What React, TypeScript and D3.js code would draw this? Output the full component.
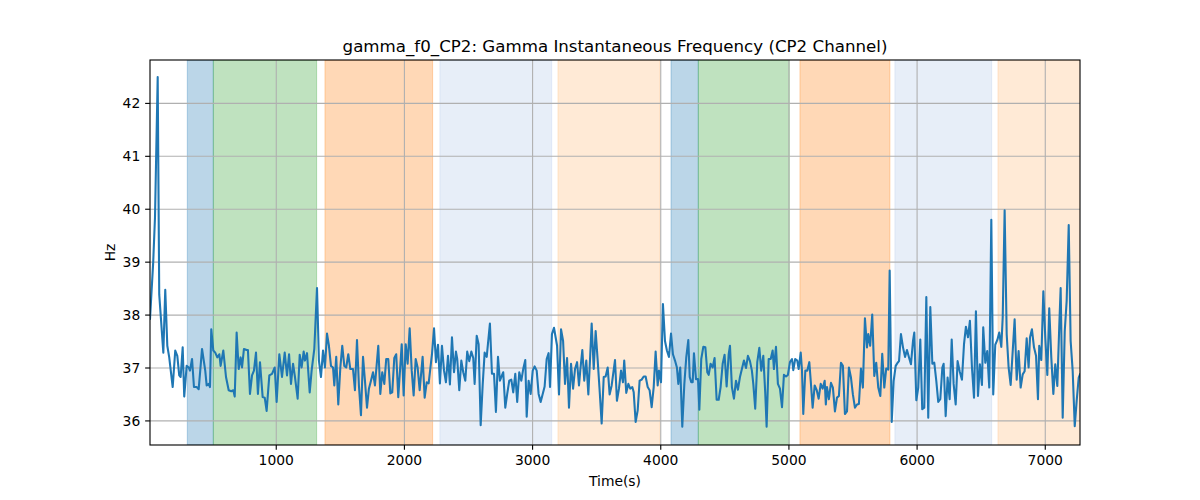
import React from "react";
import * as d3 from "d3";

const TITLE = "gamma_f0_CP2: Gamma Instantaneous Frequency (CP2 Channel)";
const X_LABEL = "Time(s)";
const Y_LABEL = "Hz";

const xTicks = [1000, 2000, 3000, 4000, 5000, 6000, 7000];
const yTicks = [36, 37, 38, 39, 40, 41, 42];

// shaded stage spans [start, end, colour]
const spanStarts = [306, 509, 1380, 2277, 3198, 4080, 4293, 5086, 5827, 6631];
const spanEnds = [509, 1315, 2220, 3149, 3994, 4293, 5003, 5788, 6582, 7300];
const spanColors = ["#1f77b4", "#2ca02c", "#ff7f0e", "#aec7e8", "#ffbb78", "#1f77b4", "#2ca02c", "#ff7f0e", "#aec7e8", "#ffbb78"];

const times = [
  15, 40, 54, 75, 87, 119, 134, 150, 165, 192, 212, 228, 243, 254, 270, 282, 301, 317, 327, 343,
  358, 379, 395, 421, 446, 457, 473, 483, 493, 509, 524, 540, 556, 566, 587, 608, 629, 649, 665, 676,
  691, 707, 722, 733, 748, 769, 779, 795, 811, 826, 842, 857, 873, 894, 910, 925, 946, 967, 988, 1003,
  1024, 1045, 1066, 1084, 1100, 1115, 1131, 1146, 1167, 1183, 1198, 1214, 1224, 1240, 1261, 1276, 1297, 1318, 1333, 1349,
  1365, 1380, 1396, 1411, 1427, 1443, 1453, 1468, 1484, 1500, 1515, 1531, 1546, 1562, 1578, 1599, 1614, 1630, 1645, 1661,
  1677, 1692, 1708, 1723, 1739, 1755, 1770, 1796, 1812, 1827, 1843, 1858, 1874, 1890, 1905, 1921, 1936, 1952, 1979, 1994,
  2010, 2025, 2041, 2057, 2072, 2088, 2103, 2119, 2142, 2158, 2174, 2189, 2215, 2231, 2246, 2262, 2277, 2293, 2309, 2324,
  2340, 2355, 2371, 2387, 2402, 2412, 2428, 2444, 2459, 2475, 2490, 2506, 2522, 2537, 2548, 2564, 2579, 2595, 2611, 2626,
  2642, 2667, 2683, 2699, 2714, 2730, 2745, 2761, 2771, 2787, 2802, 2818, 2834, 2849, 2865, 2880, 2896, 2912, 2927, 2943,
  2954, 2969, 2985, 3001, 3016, 3032, 3047, 3063, 3079, 3094, 3110, 3125, 3136, 3151, 3167, 3191, 3206, 3222, 3238, 3253,
  3269, 3284, 3300, 3316, 3331, 3347, 3362, 3372, 3388, 3403, 3419, 3435, 3450, 3461, 3477, 3492, 3508, 3523, 3539, 3555,
  3570, 3586, 3601, 3617, 3643, 3658, 3674, 3690, 3705, 3715, 3731, 3747, 3762, 3778, 3789, 3804, 3820, 3835, 3851, 3867,
  3882, 3898, 3913, 3929, 3945, 3960, 3976, 3986, 4002, 4017, 4033, 4048, 4064, 4080, 4095, 4111, 4126, 4137, 4152, 4168,
  4184, 4199, 4215, 4226, 4238, 4249, 4259, 4275, 4291, 4301, 4316, 4332, 4348, 4363, 4374, 4389, 4405, 4420, 4436, 4452,
  4467, 4483, 4498, 4514, 4530, 4540, 4555, 4571, 4587, 4602, 4618, 4633, 4649, 4665, 4680, 4696, 4711, 4722, 4737, 4753,
  4769, 4784, 4800, 4815, 4826, 4842, 4858, 4873, 4883, 4899, 4914, 4930, 4946, 4961, 4977, 4992, 5008, 5024, 5034, 5049,
  5065, 5076, 5092, 5102, 5112, 5128, 5143, 5159, 5170, 5185, 5201, 5217, 5232, 5248, 5263, 5279, 5288, 5297, 5312, 5328,
  5343, 5359, 5375, 5390, 5406, 5421, 5437, 5453, 5468, 5484, 5499, 5515, 5531, 5546, 5562, 5577, 5593, 5609, 5619, 5634,
  5650, 5666, 5681, 5697, 5713, 5728, 5744, 5759, 5775, 5786, 5802, 5817, 5833, 5848, 5859, 5874, 5890, 5906, 5921, 5937,
  5952, 5968, 5978, 5994, 6009, 6025, 6040, 6056, 6072, 6087, 6103, 6119, 6134, 6150, 6165, 6181, 6197, 6207, 6223, 6238,
  6254, 6270, 6285, 6301, 6316, 6332, 6350, 6366, 6381, 6397, 6412, 6428, 6444, 6459, 6475, 6490, 6506, 6516, 6532, 6547,
  6563, 6579, 6594, 6610, 6626, 6641, 6657, 6668, 6683, 6699, 6714, 6730, 6746, 6761, 6777, 6792, 6808, 6824, 6839, 6855,
  6870, 6881, 6896, 6912, 6928, 6943, 6953, 6969, 6985, 7000, 7016, 7031, 7047, 7063, 7078, 7094, 7109, 7120, 7136, 7152,
  7167, 7183, 7198, 7214, 7230, 7245, 7261, 7271,
];

const freqHz = [
  37.93, 39.0, 39.85, 42.5, 38.39, 37.29, 38.48, 37.42, 37.2, 36.64, 37.33, 37.23, 36.86, 36.83, 37.39, 36.46, 37.04, 37.01, 36.95, 37.17,
  36.64, 36.64, 36.6, 37.36, 36.95, 36.67, 36.7, 36.64, 37.73, 37.33, 37.29, 37.2, 37.26, 37.04, 37.33, 36.83, 36.58, 36.56, 36.58, 36.46,
  37.67, 36.98, 37.2, 37.01, 37.36, 37.34, 37.34, 36.51, 36.86, 36.95, 37.29, 36.51, 37.11, 36.45, 36.44, 36.19, 36.86, 36.89, 37.01, 36.36,
  37.26, 36.83, 37.29, 36.86, 37.26, 36.7, 37.08, 36.83, 36.42, 37.25, 37.01, 37.31, 37.14, 37.28, 36.54, 36.95, 37.36, 38.51, 37.14, 36.83,
  37.33, 37.01, 37.65, 37.42, 37.04, 37.01, 36.67, 37.21, 36.31, 37.01, 37.42, 37.04, 37.01, 37.26, 36.98, 36.98, 36.58, 37.53, 36.67, 36.11,
  37.21, 36.76, 36.25, 36.61, 36.76, 36.92, 36.67, 37.42, 36.51, 36.92, 36.7, 37.17, 37.17, 36.52, 36.54, 37.19, 37.26, 36.45, 37.45, 36.48,
  37.45, 37.08, 37.75, 36.95, 36.48, 37.17, 37.01, 36.58, 37.21, 36.44, 36.73, 36.71, 37.26, 37.75, 37.11, 37.44, 36.71, 37.42, 36.95, 36.73,
  37.23, 36.69, 37.58, 36.92, 37.31, 37.17, 36.58, 37.14, 36.92, 36.76, 37.31, 37.13, 37.31, 37.19, 36.7, 37.61, 37.45, 35.92, 36.7, 37.29,
  37.21, 37.84, 36.89, 36.89, 36.17, 37.21, 36.76, 36.86, 36.92, 36.25, 36.51, 36.76, 36.78, 36.54, 36.89, 36.36, 36.92, 36.76, 36.98, 37.15,
  36.08, 36.76, 36.51, 36.95, 37.03, 36.95, 36.51, 36.36, 36.51, 36.65, 37.17, 37.28, 36.64, 37.64, 37.76, 37.42, 36.5, 37.73, 37.51, 36.7,
  37.19, 36.25, 37.08, 36.61, 36.98, 37.11, 36.67, 36.95, 37.34, 36.76, 37.14, 36.5, 37.26, 37.84, 36.98, 37.7, 37.14, 36.58, 35.95, 36.83,
  36.84, 37.01, 36.5, 36.67, 37.15, 36.38, 36.61, 36.95, 36.73, 37.14, 36.53, 36.7, 36.61, 36.64, 36.54, 35.98, 36.2, 36.76, 36.78, 36.84,
  36.84, 36.64, 36.58, 36.26, 36.64, 37.31, 36.67, 36.95, 36.73, 38.21, 37.51, 37.33, 37.21, 37.65, 37.26, 37.14, 37.01, 36.7, 37.01, 35.89,
  36.7, 37.2, 37.53, 36.83, 36.73, 36.73, 37.28, 36.79, 36.79, 36.21, 37.17, 37.4, 37.39, 36.92, 36.87, 37.08, 37.01, 37.19, 36.4, 36.4,
  36.64, 37.08, 37.25, 36.65, 37.26, 37.42, 36.64, 36.42, 36.76, 36.59, 36.83, 36.98, 37.14, 37.0, 37.23, 37.13, 36.95, 36.7, 36.23, 37.11,
  37.38, 36.95, 37.23, 36.54, 35.89, 37.17, 37.17, 37.33, 36.98, 37.4, 36.7, 36.61, 36.26, 36.87, 36.84, 36.87, 37.11, 37.17, 36.96, 37.17,
  37.14, 36.98, 37.29, 36.95, 36.13, 36.95, 36.95, 37.11, 36.76, 36.25, 36.67, 36.58, 36.42, 36.7, 36.61, 36.76, 36.31, 36.64, 36.41, 36.72,
  36.63, 36.18, 36.44, 36.47, 37.1, 37.04, 36.13, 36.18, 37.01, 36.82, 36.5, 36.25, 36.31, 36.32, 36.99, 36.63, 37.94, 37.39, 37.64, 37.42,
  38.01, 36.85, 37.1, 36.63, 36.47, 37.27, 36.63, 36.99, 36.97, 38.84, 35.98, 36.75, 37.04, 37.1, 37.13, 37.64, 37.39, 37.21, 37.34, 37.2,
  37.07, 37.51, 37.67, 36.39, 36.63, 37.54, 36.22, 36.25, 38.34, 36.06, 38.15, 37.08, 37.1, 36.75, 36.36, 36.41, 37.01, 37.08, 36.09, 36.82,
  36.41, 37.54, 36.7, 36.31, 37.13, 36.94, 36.78, 37.45, 37.78, 37.58, 37.89, 37.01, 36.44, 38.07, 36.47, 37.07, 36.68, 37.77, 37.1, 37.32,
  36.63, 39.8, 36.5, 37.44, 37.53, 37.67, 37.4, 37.96, 39.98, 37.64, 37.01, 36.68, 37.32, 37.92, 36.78, 37.32, 36.63, 36.88, 36.94, 37.56,
  37.01, 37.58, 37.73, 37.39, 37.23, 36.41, 37.42, 37.15, 38.45, 37.58, 36.87, 38.13, 37.2, 36.51, 37.07, 36.66, 37.77, 38.51, 36.06, 37.7,
  38.27, 39.7, 37.51, 36.94, 35.9, 36.38, 36.82, 36.88,
];

const W = 1200;
const H = 500;
const M = { left: 150, right: 1080, top: 60, bottom: 445 };
const FONT = "DejaVu Sans, sans-serif";
const PT = 100 / 72;

export default function App() {
  const x = d3.scaleLinear().domain([15, 7271]).range([M.left, M.right]);
  const y = d3.scaleLinear().domain([35.545, 42.82]).range([M.bottom, M.top]);
  const pts: [number, number][] = times.map((t, i) => [t, freqHz[i]]);
  const line = d3
    .line<[number, number]>()
    .x((d) => x(d[0]))
    .y((d) => y(d[1]));
  const clipId = "plot-clip";
  const tickLen = 3.5 * PT;
  const tickFont = 10 * PT;

  return (
    <svg
      width={W}
      height={H}
      style={{ position: "absolute", left: 0, top: 0, background: "#fff" }}
      fontFamily={FONT}
    >
      <defs>
        <clipPath id={clipId}>
          <rect x={M.left} y={M.top} width={M.right - M.left} height={M.bottom - M.top} />
        </clipPath>
      </defs>
      <rect x={0} y={0} width={W} height={H} fill="#fff" />
      <g clipPath={`url(#${clipId})`}>
        {spanStarts.map((s, i) => (
          <rect
            key={i}
            x={x(s)}
            y={M.top}
            width={x(spanEnds[i]) - x(s)}
            height={M.bottom - M.top}
            fill={spanColors[i]}
            fillOpacity={0.3}
            stroke={spanColors[i]}
            strokeOpacity={0.3}
            strokeWidth={1}
          />
        ))}
        {xTicks.map((t) => (
          <line key={"gx" + t} x1={x(t)} x2={x(t)} y1={M.top} y2={M.bottom} stroke="#b0b0b0" strokeWidth={0.8 * PT} />
        ))}
        {yTicks.map((t) => (
          <line key={"gy" + t} x1={M.left} x2={M.right} y1={y(t)} y2={y(t)} stroke="#b0b0b0" strokeWidth={0.8 * PT} />
        ))}
        <path d={line(pts) || ""} fill="none" stroke="#1f77b4" strokeWidth={1.5 * PT} strokeLinejoin="round" strokeLinecap="square" />
      </g>
      <rect
        x={M.left}
        y={M.top}
        width={M.right - M.left}
        height={M.bottom - M.top}
        fill="none"
        stroke="#000"
        strokeWidth={0.8 * PT}
      />
      {xTicks.map((t) => (
        <g key={"xt" + t}>
          <line x1={x(t)} x2={x(t)} y1={M.bottom} y2={M.bottom + tickLen} stroke="#000" strokeWidth={0.8 * PT} />
          <text x={x(t)} y={M.bottom + 20} textAnchor="middle" fontSize={tickFont} fill="#000">
            {t}
          </text>
        </g>
      ))}
      {yTicks.map((t) => (
        <g key={"yt" + t}>
          <line x1={M.left - tickLen} x2={M.left} y1={y(t)} y2={y(t)} stroke="#000" strokeWidth={0.8 * PT} />
          <text x={M.left - 2 * tickLen} y={y(t)} dy="0.35em" textAnchor="end" fontSize={tickFont} fill="#000">
            {t}
          </text>
        </g>
      ))}
      <text x={(M.left + M.right) / 2} y={486} textAnchor="middle" fontSize={tickFont} fill="#000">
        {X_LABEL}
      </text>
      <text
        transform={`translate(115, ${(M.top + M.bottom) / 2}) rotate(-90)`}
        textAnchor="middle"
        fontSize={tickFont}
        fill="#000"
      >
        {Y_LABEL}
      </text>
      <text x={(M.left + M.right) / 2} y={52} textAnchor="middle" fontSize={12 * PT} fill="#000">
        {TITLE}
      </text>
    </svg>
  );
}
